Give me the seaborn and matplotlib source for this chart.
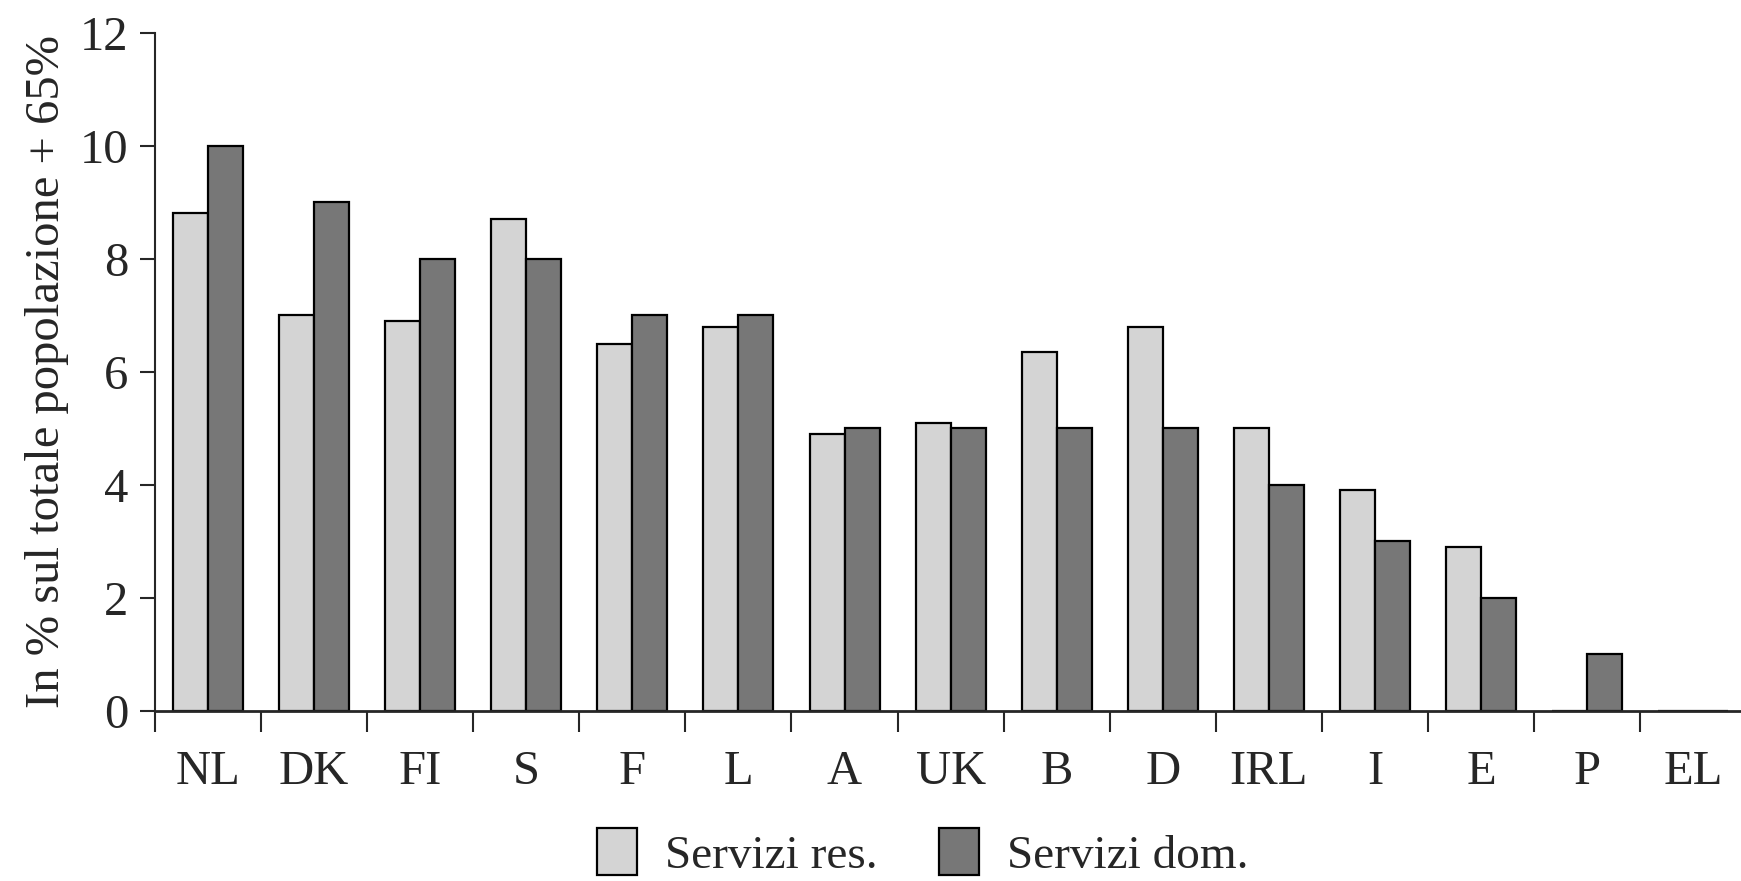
import numpy as np
import pandas as pd
import matplotlib
matplotlib.use("Agg")
import matplotlib.pyplot as plt
import seaborn as sns

# dati
paesi = ["NL", "DK", "FI", "S", "F", "L", "A", "UK", "B", "D", "IRL", "I", "E", "P", "EL"]
servizi_res = [8.8, 7.0, 6.9, 8.7, 6.5, 6.8, 4.9, 5.1, 6.35, 6.8, 5.0, 3.9, 2.9, 0.0, 0.0]
servizi_dom = [10.0, 9.0, 8.0, 8.0, 7.0, 7.0, 5.0, 5.0, 5.0, 5.0, 4.0, 3.0, 2.0, 1.0, 0.0]
serie = ["Servizi res.", "Servizi dom."]
colori = ["#d4d4d4", "#777777"]

df = pd.DataFrame({
    "paese": paesi * 2,
    "valore": servizi_res + servizi_dom,
    "serie": [serie[0]] * len(paesi) + [serie[1]] * len(paesi),
})

sns.set_style("ticks")
plt.rcParams["font.family"] = ["Liberation Serif", "DejaVu Serif"]

fig = plt.figure(figsize=(17.41, 8.81), dpi=100)
ax = fig.add_axes([0.089, 0.193, 0.911, 0.77])

sns.barplot(data=df, x="paese", y="valore", hue="serie", order=paesi,
            hue_order=serie, palette=colori, width=0.66,
            edgecolor="black", linewidth=1.6, ax=ax)

ax.set_xlim(-0.5, 14.45)
ax.set_ylim(0, 12)
ax.set_yticks(np.arange(0, 13, 2))
ax.set_xticks(np.arange(-0.5, 14.5, 1), minor=True)
ax.tick_params(axis="x", which="major", length=0, pad=28, labelsize=35)
ax.tick_params(axis="x", which="minor", length=15, width=1.5, direction="out")
ax.tick_params(axis="y", which="major", length=11, width=1.5, direction="out",
               pad=8, labelsize=35)
ax.set_xlabel("")
ax.set_ylabel("In % sul totale popolazione + 65%", fontsize=35, labelpad=8)
sns.despine(ax=ax, top=True, right=True)
ax.spines["left"].set_linewidth(1.5)
ax.spines["bottom"].set_linewidth(2)

handles, labels = ax.get_legend_handles_labels()
ax.get_legend().remove()
fig.legend(handles, labels, loc="center", bbox_to_anchor=(0.53, 0.032),
           ncol=2, frameon=False, fontsize=34, handlelength=0.85,
           handleheight=1.15, columnspacing=1.3, handletextpad=0.6)

plt.savefig("out.png", dpi=100)
